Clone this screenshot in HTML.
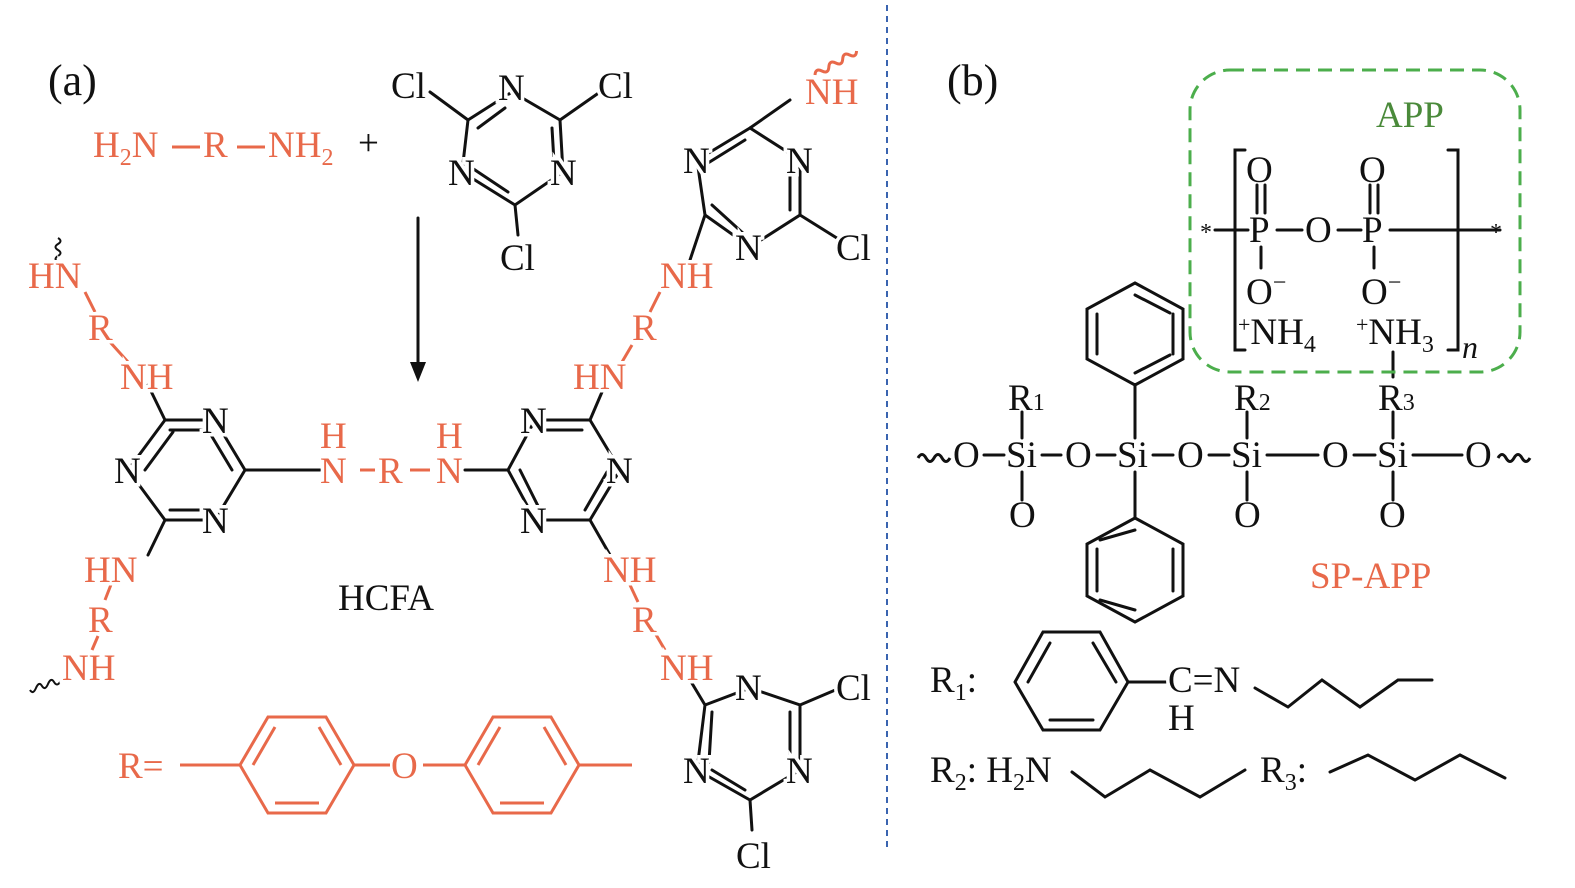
<!DOCTYPE html>
<html><head><meta charset="utf-8"><style>
html,body{margin:0;padding:0;background:#fff}
svg{display:block}
text{font-family:"Liberation Serif",serif;font-size:37px}
.o{fill:#E8694A}
.k{fill:#111}
.h{stroke:#fff;stroke-width:7;paint-order:stroke}
</style></head><body>
<svg width="1575" height="888" viewBox="0 0 1575 888" xmlns="http://www.w3.org/2000/svg">
<g stroke="#111" stroke-width="3" fill="none" stroke-linecap="round">
<polyline points="468,120 512,92 560,120 563,172 515,205 462,172 468,120"/>
<line x1="478" y1="128" x2="505" y2="108"/><line x1="552" y1="128" x2="554" y2="162"/><line x1="472" y1="168" x2="508" y2="192"/>
<line x1="468" y1="120" x2="430" y2="92"/><line x1="560" y1="120" x2="600" y2="92"/><line x1="515" y1="205" x2="518" y2="235"/>
<line x1="418" y1="218" x2="418" y2="365"/>
<polyline points="165,420 215,420 245,470 215,520 165,520 128,470 165,420"/>
<line x1="170" y1="430" x2="205" y2="430"/><line x1="170" y1="510" x2="205" y2="510"/><line x1="173" y1="432" x2="145" y2="470"/><line x1="232" y1="470" x2="208" y2="430"/>
<line x1="245" y1="470" x2="320" y2="470"/>
<line x1="165" y1="420" x2="148" y2="385"/><line x1="165" y1="520" x2="148" y2="555"/>
<polyline points="508,470 535,420 590,420 620,470 590,520 535,520 508,470"/>
<line x1="545" y1="430" x2="582" y2="430"/><line x1="520" y1="470" x2="540" y2="510"/><line x1="607" y1="472" x2="585" y2="510"/>
<line x1="465" y1="470" x2="508" y2="470"/>
<line x1="590" y1="420" x2="605" y2="385"/><line x1="590" y1="520" x2="610" y2="555"/>
<polyline points="750,128 800,160 800,215 750,247 705,215 697,160 750,128"/>
<line x1="745" y1="140" x2="708" y2="163"/><line x1="790" y1="165" x2="790" y2="210"/><line x1="712" y1="205" x2="745" y2="235"/>
<line x1="750" y1="128" x2="790" y2="100"/><line x1="800" y1="215" x2="840" y2="240"/><line x1="705" y1="215" x2="690" y2="260"/>
<polyline points="705,705 750,688 800,705 800,770 750,800 697,770 705,705"/>
<line x1="712" y1="712" x2="709" y2="762"/><line x1="790" y1="712" x2="790" y2="762"/><line x1="745" y1="790" x2="712" y2="770"/>
<line x1="800" y1="705" x2="840" y2="688"/><line x1="750" y1="800" x2="752" y2="830"/><line x1="705" y1="705" x2="690" y2="680"/>
<!-- si chain -->
<line x1="984" y1="455" x2="1004" y2="455"/><line x1="1042" y1="455" x2="1061" y2="455"/><line x1="1097" y1="455" x2="1115" y2="455"/>
<line x1="1153" y1="455" x2="1173" y2="455"/><line x1="1209" y1="455" x2="1229" y2="455"/><line x1="1267" y1="455" x2="1318" y2="455"/>
<line x1="1354" y1="455" x2="1375" y2="455"/><line x1="1413" y1="455" x2="1462" y2="455"/>
<line x1="1022" y1="412" x2="1022" y2="438"/><line x1="1022" y1="472" x2="1022" y2="500"/>
<line x1="1247" y1="412" x2="1247" y2="438"/><line x1="1247" y1="472" x2="1247" y2="500"/>
<line x1="1393" y1="352" x2="1393" y2="377"/><line x1="1393" y1="412" x2="1393" y2="438"/><line x1="1393" y1="472" x2="1393" y2="500"/>
<line x1="1135" y1="385" x2="1135" y2="438"/><line x1="1135" y1="472" x2="1135" y2="518"/>
<polyline points="1135,283 1183,309 1183,359 1135,385 1087,359 1087,309 1135,283"/>
<line x1="1097" y1="314" x2="1097" y2="354"/><line x1="1173" y1="314" x2="1173" y2="354"/><line x1="1135" y1="373" x2="1170" y2="355"/><line x1="1135" y1="295" x2="1170" y2="313"/>
<polyline points="1135,518 1183,544 1183,596 1135,622 1087,596 1087,544 1135,518"/>
<line x1="1097" y1="549" x2="1097" y2="591"/><line x1="1173" y1="549" x2="1173" y2="591"/><line x1="1100" y1="540" x2="1135" y2="530"/><line x1="1100" y1="600" x2="1135" y2="610"/>
<!-- APP -->
<line x1="1215" y1="230" x2="1248" y2="230"/><line x1="1277" y1="230" x2="1302" y2="230"/><line x1="1338" y1="230" x2="1361" y2="230"/><line x1="1390" y1="230" x2="1500" y2="230"/>
<line x1="1257" y1="185" x2="1257" y2="213"/><line x1="1265" y1="185" x2="1265" y2="213"/>
<line x1="1370" y1="185" x2="1370" y2="213"/><line x1="1378" y1="185" x2="1378" y2="213"/>
<line x1="1261" y1="247" x2="1261" y2="268"/><line x1="1374" y1="247" x2="1374" y2="268"/>
<polyline points="1245,150 1235,150 1235,350 1245,350"/><polyline points="1448,150 1458,150 1458,350 1448,350"/>
<polyline points="1015,682 1043,632 1100,632 1128,682 1100,730 1043,730 1015,682"/>
<line x1="1028" y1="682" x2="1050" y2="643"/><line x1="1093" y1="643" x2="1116" y2="682"/><line x1="1050" y1="720" x2="1093" y2="720"/>
<line x1="1128" y1="682" x2="1168" y2="682"/>
<polyline points="1255,688 1288,707 1322,680 1360,707 1398,680 1432,680"/>
<polyline points="1072,772 1105,797 1150,770 1200,797 1245,770"/>
<polyline points="1330,772 1368,755 1415,780 1460,755 1505,778"/>
</g>
<g stroke="#E8694A" stroke-width="3" fill="none">
<line x1="172" y1="147" x2="200" y2="147"/><line x1="237" y1="147" x2="265" y2="147"/>
<line x1="180" y1="765" x2="240" y2="765"/>
<polyline points="240,765 268,717 326,717 354,765 326,813 268,813 240,765"/>
<line x1="253" y1="765" x2="275" y2="727"/><line x1="275" y1="803" x2="319" y2="803"/><line x1="319" y1="727" x2="341" y2="765"/>
<line x1="354" y1="765" x2="390" y2="765"/><line x1="423" y1="765" x2="465" y2="765"/>
<polyline points="465,765 493,717 551,717 579,765 551,813 493,813 465,765"/>
<line x1="478" y1="765" x2="500" y2="727"/><line x1="500" y1="803" x2="544" y2="803"/><line x1="544" y1="727" x2="566" y2="765"/>
<line x1="579" y1="765" x2="632" y2="765"/>
<line x1="85" y1="292" x2="95" y2="312"/><line x1="110" y1="342" x2="128" y2="362"/>
<line x1="112" y1="582" x2="105" y2="600"/><line x1="98" y1="636" x2="92" y2="650"/>
<line x1="360" y1="470" x2="375" y2="470"/><line x1="410" y1="470" x2="430" y2="470"/>
<line x1="632" y1="345" x2="622" y2="362"/><line x1="660" y1="292" x2="650" y2="312"/>
<line x1="630" y1="585" x2="638" y2="602"/><line x1="655" y1="633" x2="665" y2="650"/>
<path d="M815,75 q4,-6 8,0 t8,0 t8,0 t8,0 t8,0 t8,0" transform="rotate(-30 815 75)"/>
</g>
<g stroke="#111" stroke-width="2" fill="none">
<path d="M58,262 q-5,-3 0,-6 t0,-6 t0,-6 t0,-6"/>
<path d="M60,682 q-3,5 -6,0 t-6,2 t-6,2 t-6,2 t-6,2"/>
<path d="M918,458 q4,-7 8,0 t8,0 t8,0 t8,0" stroke-width="3"/>
<path d="M1498,458 q4,-7 8,0 t8,0 t8,0 t8,0" stroke-width="3"/>
</g>
<line x1="887" y1="5" x2="887" y2="848" stroke="#3a64b0" stroke-width="2" stroke-dasharray="6,5"/>
<rect x="1190" y="70" width="330" height="302" rx="40" fill="none" stroke="#4cae4c" stroke-width="3" stroke-dasharray="14,8"/>

<g class="k">
<text x="48" y="95" style="font-size:44px">(a)</text>
<text x="947" y="95" style="font-size:44px">(b)</text>
<text x="358" y="155">+</text>
<text class="h" x="391" y="98">Cl</text><text class="h" x="498" y="100">N</text><text class="h" x="598" y="98">Cl</text>
<text class="h" x="448" y="185">N</text><text class="h" x="550" y="185">N</text><text class="h" x="500" y="270">Cl</text>
<text class="h" x="202" y="433">N</text><text class="h" x="114" y="483">N</text><text class="h" x="202" y="533">N</text>
<text class="h" x="520" y="433">N</text><text class="h" x="606" y="483">N</text><text class="h" x="520" y="533">N</text>
<text class="h" x="683" y="173">N</text><text class="h" x="786" y="173">N</text><text class="h" x="735" y="260">N</text><text class="h" x="836" y="260">Cl</text>
<text class="h" x="735" y="700">N</text><text class="h" x="836" y="700">Cl</text><text class="h" x="683" y="783">N</text><text class="h" x="786" y="783">N</text><text class="h" x="736" y="868">Cl</text>
<text x="338" y="610">HCFA</text>
<polygon points="418,382 410,362 426,362" fill="#111"/>
<text x="953" y="467">O</text><text x="1006" y="467">Si</text><text x="1065" y="467">O</text><text x="1117" y="467">Si</text><text x="1177" y="467">O</text><text x="1231" y="467">Si</text><text x="1322" y="467">O</text><text x="1377" y="467">Si</text><text x="1465" y="467">O</text>
<text x="1009" y="527">O</text><text x="1234" y="527">O</text><text x="1379" y="527">O</text>
<text x="1008" y="410">R<tspan style="font-size:24px">1</tspan></text>
<text x="1234" y="410">R<tspan style="font-size:24px">2</tspan></text>
<text x="1378" y="410">R<tspan style="font-size:24px">3</tspan></text>
<text x="1200" y="240" style="font-size:24px">*</text><text x="1490" y="240" style="font-size:24px">*</text>
<text x="1249" y="242">P</text><text x="1305" y="242">O</text><text x="1362" y="242">P</text>
<text x="1246" y="182">O</text><text x="1359" y="182">O</text>
<text x="1246" y="304">O<tspan dy="-14" style="font-size:24px">−</tspan></text>
<text x="1361" y="304">O<tspan dy="-14" style="font-size:24px">−</tspan></text>
<text x="1238" y="344"><tspan dy="-12" style="font-size:22px">+</tspan><tspan dy="12">NH</tspan><tspan dy="8" style="font-size:24px">4</tspan></text>
<text x="1356" y="344"><tspan dy="-12" style="font-size:22px">+</tspan><tspan dy="12">NH</tspan><tspan dy="8" style="font-size:24px">3</tspan></text>
<text x="1462" y="358" font-style="italic" style="font-size:32px">n</text>
<text x="930" y="692">R<tspan dy="8" style="font-size:24px">1</tspan><tspan dy="-8">:</tspan></text>
<text class="h" x="1168" y="692">C=N</text><text x="1168" y="730">H</text>
<text x="930" y="782">R<tspan dy="8" style="font-size:24px">2</tspan><tspan dy="-8">: H</tspan><tspan dy="8" style="font-size:24px">2</tspan><tspan dy="-8">N</tspan></text>
<text x="1260" y="782">R<tspan dy="8" style="font-size:24px">3</tspan><tspan dy="-8">:</tspan></text>
</g>
<g class="o">
<text x="93" y="157">H<tspan dy="8" style="font-size:24px">2</tspan><tspan dy="-8">N</tspan></text>
<text x="203" y="157">R</text>
<text x="268" y="157">NH<tspan dy="8" style="font-size:24px">2</tspan></text>
<text x="118" y="778">R=</text>
<text x="391" y="778">O</text>
<text class="h" x="28" y="288">HN</text><text class="h" x="88" y="340">R</text><text class="h" x="120" y="389">NH</text>
<text class="h" x="84" y="582">HN</text><text class="h" x="88" y="632">R</text><text class="h" x="62" y="680">NH</text>
<text x="320" y="448">H</text><text class="h" x="320" y="483">N</text><text class="h" x="378" y="483">R</text>
<text x="436" y="448">H</text><text class="h" x="436" y="483">N</text>
<text class="h" x="573" y="389">HN</text><text class="h" x="632" y="340">R</text><text class="h" x="660" y="288">NH</text>
<text class="h" x="805" y="104">NH</text>
<text class="h" x="603" y="582">NH</text><text class="h" x="632" y="632">R</text><text class="h" x="660" y="680">NH</text>
<text x="1310" y="588">SP-APP</text>
</g>
<text x="1376" y="127" fill="#4a8a3a">APP</text>
</svg>
</body></html>
